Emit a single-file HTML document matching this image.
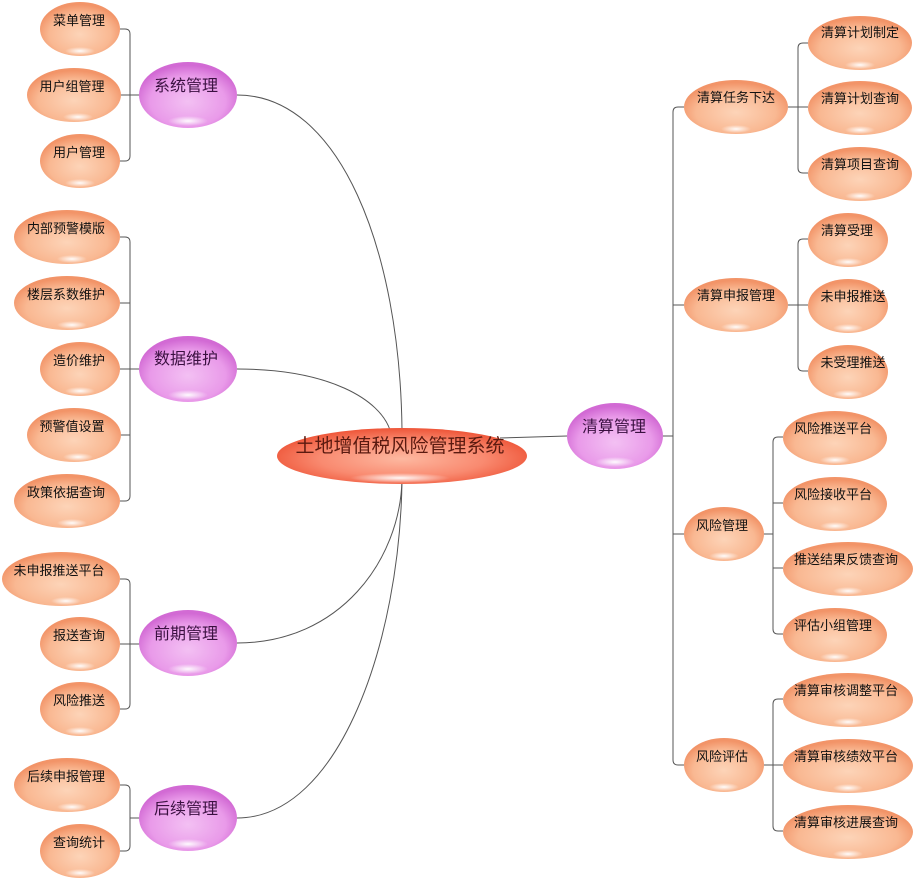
<!DOCTYPE html>
<html><head><meta charset="utf-8"><style>
html,body{margin:0;padding:0;background:#fff;width:916px;height:882px;overflow:hidden}
text{font-family:"Liberation Sans","Noto Sans CJK SC","WenQuanYi Zen Hei",sans-serif;fill:#111}
.l{font-size:13px;text-anchor:middle}
.p{font-size:16px;text-anchor:middle;fill:#3a1040}
.c{font-size:19px;text-anchor:middle;fill:#5a1a10}
.ln{fill:none;stroke:#555;stroke-width:1}
</style></head><body>
<svg width="916" height="882" viewBox="0 0 916 882" xmlns="http://www.w3.org/2000/svg">
<defs>
<radialGradient id="o" cx="50%" cy="60%" r="55%"><stop offset="0" stop-color="#fdd4b8"/><stop offset="0.7" stop-color="#f9b892"/><stop offset="1" stop-color="#f29468"/></radialGradient>
<radialGradient id="pu" cx="50%" cy="60%" r="55%"><stop offset="0" stop-color="#f3c0f3"/><stop offset="0.7" stop-color="#e99ae9"/><stop offset="1" stop-color="#d26ad4"/></radialGradient>
<radialGradient id="r" cx="50%" cy="55%" r="55%"><stop offset="0" stop-color="#fdb8a0"/><stop offset="0.6" stop-color="#f98a70"/><stop offset="1" stop-color="#ee5538"/></radialGradient>
<radialGradient id="hl" cx="50%" cy="50%" r="50%"><stop offset="0" stop-color="#fff" stop-opacity="0.95"/><stop offset="1" stop-color="#fff" stop-opacity="0"/></radialGradient>
</defs>

<!-- central curves -->
<path class="ln" d="M237,95 C340,95 400,250 402,430"/>
<path class="ln" d="M237,369 C330,369 380,400 390,430"/>
<path class="ln" d="M237,643 C340,643 400,560 402,480"/>
<path class="ln" d="M237,818 C340,818 400,640 402,480"/>
<path class="ln" d="M500,438 L567,436"/>

<!-- left brackets -->
<path class="ln" d="M120,29 H125 Q130,29 130,34 V156 Q130,161 125,161 H120 M120,95 H140"/>
<path class="ln" d="M120,237 H125 Q130,237 130,242 V496 Q130,501 125,501 H120 M120,303 H130 M120,369 H140 M120,435 H130"/>
<path class="ln" d="M120,579 H125 Q130,579 130,584 V704 Q130,709 125,709 H120 M120,644 H140"/>
<path class="ln" d="M120,785 H125 Q130,785 130,790 V846 Q130,851 125,851 H120 M130,818 H140"/>

<!-- right brackets -->
<path class="ln" d="M663,436 H673 M684,107 H678 Q673,107 673,112 V760 Q673,765 678,765 H684 M673,305 H684 M673,534 H684"/>
<path class="ln" d="M788,107 H798 M808,43 H803 Q798,43 798,48 V168 Q798,173 803,173 H808 M798,107 H808"/>
<path class="ln" d="M788,305 H798 M808,239 H803 Q798,239 798,244 V366 Q798,371 803,371 H808 M798,305 H808"/>
<path class="ln" d="M764,534 H773 M783,437 H778 Q773,437 773,442 V629 Q773,634 778,634 H783 M773,503 H783 M773,568 H783"/>
<path class="ln" d="M764,765 H773 M783,699 H778 Q773,699 773,704 V826 Q773,831 778,831 H783 M773,765 H783"/>

<g id="nodes">
<!-- central -->
<ellipse cx="402" cy="456" rx="125" ry="28" fill="url(#r)"/>
<ellipse cx="400" cy="478" rx="50" ry="5" fill="url(#hl)"/>
<text class="c" x="400" y="452">土地增值税风险管理系统</text>

<!-- purple -->
<g>
<ellipse cx="188" cy="95" rx="49" ry="33" fill="url(#pu)"/><ellipse cx="188" cy="121" rx="20" ry="5" fill="url(#hl)"/><text class="p" x="186" y="91">系统管理</text>
<ellipse cx="188" cy="369" rx="49" ry="33" fill="url(#pu)"/><ellipse cx="188" cy="395" rx="20" ry="5" fill="url(#hl)"/><text class="p" x="186" y="364">数据维护</text>
<ellipse cx="188" cy="643" rx="49" ry="33" fill="url(#pu)"/><ellipse cx="188" cy="669" rx="20" ry="5" fill="url(#hl)"/><text class="p" x="186" y="639">前期管理</text>
<ellipse cx="188" cy="818" rx="49" ry="33" fill="url(#pu)"/><ellipse cx="188" cy="844" rx="20" ry="5" fill="url(#hl)"/><text class="p" x="186" y="814">后续管理</text>
<ellipse cx="615" cy="436" rx="48" ry="33" fill="url(#pu)"/><ellipse cx="615" cy="462" rx="20" ry="5" fill="url(#hl)"/><text class="p" x="614" y="432">清算管理</text>
</g>

<!-- left leaves -->
<g>
<ellipse cx="80" cy="29" rx="40" ry="27" fill="url(#o)"/><ellipse cx="80" cy="51" rx="15" ry="4" fill="url(#hl)"/><text class="l" x="79" y="25">菜单管理</text>
<ellipse cx="74" cy="95" rx="47" ry="27" fill="url(#o)"/><ellipse cx="78" cy="117" rx="15" ry="4" fill="url(#hl)"/><text class="l" x="72" y="91">用户组管理</text>
<ellipse cx="80" cy="161" rx="40" ry="27" fill="url(#o)"/><ellipse cx="80" cy="183" rx="15" ry="4" fill="url(#hl)"/><text class="l" x="79" y="157">用户管理</text>

<ellipse cx="67" cy="237" rx="53" ry="27" fill="url(#o)"/><ellipse cx="72" cy="259" rx="15" ry="4" fill="url(#hl)"/><text class="l" x="66" y="233">内部预警模版</text>
<ellipse cx="67" cy="303" rx="53" ry="27" fill="url(#o)"/><ellipse cx="72" cy="325" rx="15" ry="4" fill="url(#hl)"/><text class="l" x="66" y="299">楼层系数维护</text>
<ellipse cx="80" cy="369" rx="40" ry="27" fill="url(#o)"/><ellipse cx="80" cy="391" rx="15" ry="4" fill="url(#hl)"/><text class="l" x="79" y="365">造价维护</text>
<ellipse cx="74" cy="435" rx="47" ry="27" fill="url(#o)"/><ellipse cx="78" cy="457" rx="15" ry="4" fill="url(#hl)"/><text class="l" x="72" y="431">预警值设置</text>
<ellipse cx="67" cy="501" rx="53" ry="27" fill="url(#o)"/><ellipse cx="72" cy="523" rx="15" ry="4" fill="url(#hl)"/><text class="l" x="66" y="497">政策依据查询</text>

<ellipse cx="61" cy="579" rx="59" ry="27" fill="url(#o)"/><ellipse cx="66" cy="601" rx="15" ry="4" fill="url(#hl)"/><text class="l" x="59" y="575">未申报推送平台</text>
<ellipse cx="80" cy="644" rx="40" ry="27" fill="url(#o)"/><ellipse cx="80" cy="666" rx="15" ry="4" fill="url(#hl)"/><text class="l" x="79" y="640">报送查询</text>
<ellipse cx="80" cy="709" rx="40" ry="27" fill="url(#o)"/><ellipse cx="80" cy="731" rx="15" ry="4" fill="url(#hl)"/><text class="l" x="79" y="705">风险推送</text>

<ellipse cx="67" cy="785" rx="53" ry="27" fill="url(#o)"/><ellipse cx="72" cy="807" rx="15" ry="4" fill="url(#hl)"/><text class="l" x="66" y="781">后续申报管理</text>
<ellipse cx="80" cy="851" rx="40" ry="27" fill="url(#o)"/><ellipse cx="80" cy="873" rx="15" ry="4" fill="url(#hl)"/><text class="l" x="79" y="847">查询统计</text>
</g>

<!-- right L2 -->
<g>
<ellipse cx="736" cy="107" rx="52" ry="27" fill="url(#o)"/><ellipse cx="736" cy="129" rx="15" ry="4" fill="url(#hl)"/><text class="l" x="736" y="102">清算任务下达</text>
<ellipse cx="736" cy="305" rx="52" ry="27" fill="url(#o)"/><ellipse cx="736" cy="327" rx="15" ry="4" fill="url(#hl)"/><text class="l" x="736" y="300">清算申报管理</text>
<ellipse cx="724" cy="534" rx="40" ry="27" fill="url(#o)"/><ellipse cx="724" cy="556" rx="15" ry="4" fill="url(#hl)"/><text class="l" x="722" y="530">风险管理</text>
<ellipse cx="724" cy="765" rx="40" ry="27" fill="url(#o)"/><ellipse cx="724" cy="787" rx="15" ry="4" fill="url(#hl)"/><text class="l" x="722" y="761">风险评估</text>
</g>

<!-- right L3 -->
<g>
<ellipse cx="860" cy="43" rx="52" ry="27" fill="url(#o)"/><ellipse cx="860" cy="65" rx="15" ry="4" fill="url(#hl)"/><text class="l" x="860" y="37">清算计划制定</text>
<ellipse cx="860" cy="108" rx="52" ry="27" fill="url(#o)"/><ellipse cx="860" cy="130" rx="15" ry="4" fill="url(#hl)"/><text class="l" x="860" y="103">清算计划查询</text>
<ellipse cx="860" cy="174" rx="52" ry="27" fill="url(#o)"/><ellipse cx="860" cy="196" rx="15" ry="4" fill="url(#hl)"/><text class="l" x="860" y="169">清算项目查询</text>

<ellipse cx="848" cy="240" rx="40" ry="27" fill="url(#o)"/><ellipse cx="848" cy="262" rx="15" ry="4" fill="url(#hl)"/><text class="l" x="847" y="235">清算受理</text>
<ellipse cx="848" cy="306" rx="40" ry="27" fill="url(#o)"/><ellipse cx="848" cy="328" rx="15" ry="4" fill="url(#hl)"/><text class="l" x="853" y="301">未申报推送</text>
<ellipse cx="848" cy="372" rx="40" ry="27" fill="url(#o)"/><ellipse cx="848" cy="394" rx="15" ry="4" fill="url(#hl)"/><text class="l" x="853" y="367">未受理推送</text>

<ellipse cx="835" cy="438" rx="52" ry="27" fill="url(#o)"/><ellipse cx="835" cy="460" rx="15" ry="4" fill="url(#hl)"/><text class="l" x="833" y="433">风险推送平台</text>
<ellipse cx="835" cy="504" rx="52" ry="27" fill="url(#o)"/><ellipse cx="835" cy="526" rx="15" ry="4" fill="url(#hl)"/><text class="l" x="833" y="499">风险接收平台</text>
<ellipse cx="848" cy="569" rx="65" ry="27" fill="url(#o)"/><ellipse cx="848" cy="591" rx="15" ry="4" fill="url(#hl)"/><text class="l" x="846" y="564">推送结果反馈查询</text>
<ellipse cx="835" cy="635" rx="52" ry="27" fill="url(#o)"/><ellipse cx="835" cy="657" rx="15" ry="4" fill="url(#hl)"/><text class="l" x="833" y="630">评估小组管理</text>

<ellipse cx="848" cy="700" rx="65" ry="27" fill="url(#o)"/><ellipse cx="848" cy="722" rx="15" ry="4" fill="url(#hl)"/><text class="l" x="846" y="695">清算审核调整平台</text>
<ellipse cx="848" cy="766" rx="65" ry="27" fill="url(#o)"/><ellipse cx="848" cy="788" rx="15" ry="4" fill="url(#hl)"/><text class="l" x="846" y="761">清算审核绩效平台</text>
<ellipse cx="848" cy="832" rx="65" ry="27" fill="url(#o)"/><ellipse cx="848" cy="854" rx="15" ry="4" fill="url(#hl)"/><text class="l" x="846" y="827">清算审核进展查询</text>
</g>
</g>
</svg>
</body></html>
